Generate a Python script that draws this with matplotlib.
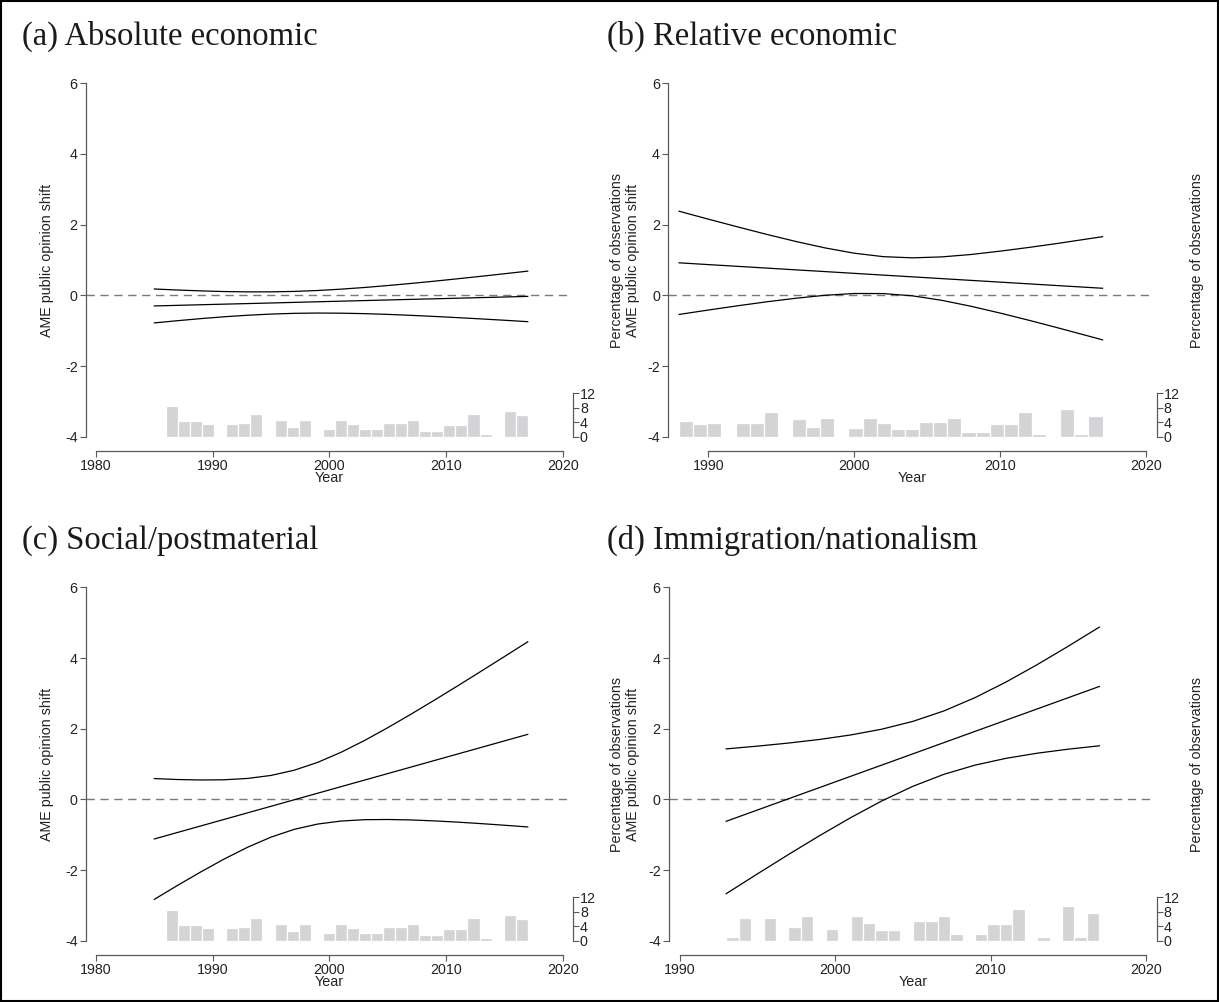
import matplotlib
matplotlib.use("Agg")
import matplotlib.pyplot as plt
from matplotlib.patches import Rectangle

plt.rcParams['font.family'] = ['Liberation Sans', 'DejaVu Sans']
plt.rcParams['axes.unicode_minus'] = False

# ---------------- data ----------------
# (a) Absolute economic
years_a = [1985, 1987, 1989, 1991, 1993, 1995, 1997, 1999, 2001,
           2003, 2005, 2007, 2009, 2011, 2013, 2015, 2017]
est_a = [-0.300, -0.283, -0.266, -0.249, -0.233, -0.216, -0.199, -0.182, -0.165,
         -0.148, -0.131, -0.114, -0.098, -0.081, -0.064, -0.047, -0.030]
upper_a = [0.180, 0.150, 0.126, 0.107, 0.098, 0.099, 0.111, 0.137, 0.175,
           0.222, 0.277, 0.337, 0.401, 0.469, 0.539, 0.611, 0.685]
lower_a = [-0.780, -0.717, -0.658, -0.606, -0.563, -0.530, -0.509, -0.501, -0.505,
           -0.518, -0.539, -0.566, -0.597, -0.631, -0.667, -0.705, -0.745]

# (b) Relative economic
years_b = [1988, 1990, 1992, 1994, 1996, 1998, 2000, 2002,
           2004, 2006, 2008, 2010, 2012, 2014, 2016, 2017]
est_b = [0.920, 0.870, 0.821, 0.771, 0.721, 0.672, 0.622, 0.572,
         0.523, 0.473, 0.423, 0.374, 0.324, 0.274, 0.225, 0.200]
upper_b = [2.380, 2.156, 1.938, 1.725, 1.524, 1.342, 1.192, 1.094,
           1.061, 1.088, 1.156, 1.251, 1.358, 1.474, 1.598, 1.660]
lower_b = [-0.540, -0.416, -0.296, -0.183, -0.082, 0.002, 0.052, 0.050,
           -0.015, -0.142, -0.310, -0.503, -0.710, -0.926, -1.148, -1.260]

# (c) Social/postmaterial
years_c = [1985, 1987, 1989, 1991, 1993, 1995, 1997, 1999, 2001,
           2003, 2005, 2007, 2009, 2011, 2013, 2015, 2017]
est_c = [-1.120, -0.935, -0.750, -0.565, -0.380, -0.195, -0.010, 0.175, 0.360,
         0.545, 0.730, 0.915, 1.100, 1.285, 1.470, 1.655, 1.840]
upper_c = [0.589, 0.562, 0.549, 0.555, 0.593, 0.678, 0.827, 1.048, 1.333,
           1.665, 2.029, 2.412, 2.809, 3.214, 3.626, 4.042, 4.460]
lower_c = [-2.829, -2.432, -2.049, -1.685, -1.353, -1.068, -0.847, -0.698, -0.613,
           -0.575, -0.569, -0.582, -0.609, -0.644, -0.686, -0.732, -0.780]

# (d) Immigration/nationalism
years_d = [1993, 1995, 1997, 1999, 2001, 2003, 2005, 2007, 2009, 2011, 2013, 2015, 2017]
est_d = [-0.62, -0.302, 0.016, 0.334, 0.652, 0.97, 1.288, 1.606, 1.924, 2.242, 2.56, 2.878, 3.196]
upper_d = [1.429, 1.507, 1.594, 1.696, 1.823, 1.986, 2.207, 2.503, 2.879, 3.322, 3.813, 4.335, 4.876]
lower_d = [-2.669, -2.111, -1.562, -1.028, -0.519, -0.046, 0.369, 0.709, 0.969, 1.162, 1.307, 1.421, 1.516]

# Histograms of observations (percent), 30 equal bins over each sample's range
hist_range_ac = (1986, 2017)
hist_pct_ac = [8.4, 4.25, 4.25, 3.6, 0, 3.45, 3.9, 6.3, 0, 4.5, 2.6, 4.75, 0, 2.25, 4.75,
               3.55, 2.0, 2.0, 3.9, 3.9, 4.75, 1.45, 1.45, 3.25, 3.25, 6.3, 0.75, 0, 7.0, 6.0]
hist_range_b = (1988, 2017)
hist_pct_b = [4.35, 3.5, 3.8, 0, 3.8, 3.8, 6.85, 0, 4.9, 2.75, 5.2, 0, 2.4, 5.2, 3.8,
              2.1, 2.1, 4.05, 4.05, 5.2, 1.3, 1.3, 3.5, 3.5, 6.85, 0.75, 0, 7.65, 0.75, 5.7]
hist_range_d = (1993, 2017)
hist_pct_d = [1.0, 6.3, 0, 6.3, 0, 3.8, 6.85, 0, 3.25, 0, 6.85, 4.9, 2.95, 2.95, 0,
              5.45, 5.45, 6.85, 1.85, 0, 1.85, 4.6, 4.6, 8.8, 0, 1.0, 0, 9.6, 1.0, 7.65]

titles = ["(a) Absolute economic", "(b) Relative economic",
          "(c) Social/postmaterial", "(d) Immigration/nationalism"]
y_ticks = [-4, -2, 0, 2, 4, 6]
pct_ticks = [0, 4, 8, 12]
x_ticks_ac = [1980, 1990, 2000, 2010, 2020]
x_ticks_bd = [1990, 2000, 2010, 2020]
y_label = "AME public opinion shift"
pct_label = "Percentage of observations"
x_label = "Year"

# ---------------- layout ----------------
W, H = 1219, 1002
fig = plt.figure(figsize=(W / 100, H / 100), dpi=100)
fig.patch.set_facecolor("white")

SPINE = "#5a5a5a"
BAR = "#d4d4d6"
TICK_FS = 10.3

panels = [
    dict(px=(86, 573, 83.3, 436.7), xlim=(1979.14, 2020.88), xt=x_ticks_ac,
         yrs=years_a, est=est_a, up=upper_a, lo=lower_a,
         hr=hist_range_ac, hp=hist_pct_ac, title_xy=(22, 45),
         ylab_x=47, right_lab_x=617),
    dict(px=(668.3, 1156.7, 83.3, 436.7), xlim=(1987.26, 2020.71), xt=x_ticks_bd,
         yrs=years_b, est=est_b, up=upper_b, lo=lower_b,
         hr=hist_range_b, hp=hist_pct_b, title_xy=(607, 45),
         ylab_x=633, right_lab_x=1197),
    dict(px=(86, 573, 587.4, 940.7), xlim=(1979.14, 2020.88), xt=x_ticks_ac,
         yrs=years_c, est=est_c, up=upper_c, lo=lower_c,
         hr=hist_range_ac, hp=hist_pct_ac, title_xy=(22, 549),
         ylab_x=47, right_lab_x=617),
    dict(px=(669, 1156.7, 587.4, 940.7), xlim=(1989.32, 2020.69), xt=x_ticks_bd,
         yrs=years_d, est=est_d, up=upper_d, lo=lower_d,
         hr=hist_range_d, hp=hist_pct_d, title_xy=(607, 549),
         ylab_x=633, right_lab_x=1197),
]

for p, title in zip(panels, titles):
    l, r, t, b = p["px"]
    w_px, h_px = r - l, b - t
    ax = fig.add_axes([l / W, 1 - b / H, w_px / W, h_px / H])
    tw = ax.twinx()

    # histogram on the secondary axis
    n = len(p["hp"])
    lo_yr, hi_yr = p["hr"]
    bw = (hi_yr - lo_yr) / n
    edges = [lo_yr + i * bw for i in range(n)]
    tw.bar(edges, p["hp"], width=bw, align="edge", color=BAR,
           edgecolor="white", linewidth=0.9)
    tw.set_ylim(0, 12 * h_px / 43.3)
    tw.set_yticks(pct_ticks)
    tw.set_yticklabels([str(v) for v in pct_ticks])
    for s in ("left", "top", "bottom"):
        tw.spines[s].set_visible(False)
    tw.spines["right"].set_bounds(0, 12)
    tw.spines["right"].set_color(SPINE)
    tw.spines["right"].set_linewidth(0.9)
    tw.tick_params(axis="y", direction="out", length=4, width=0.8, color=SPINE,
                   labelsize=TICK_FS, pad=1, labelcolor="#222222")
    tw.set_ylabel(pct_label, fontsize=TICK_FS, color="#222222")
    tw.yaxis.set_label_coords((p["right_lab_x"] - l) / w_px, 0.5)
    tw.yaxis.label.set_va("center")

    # main axis drawn above the histogram
    ax.set_zorder(tw.get_zorder() + 1)
    ax.patch.set_visible(False)
    ax.set_xlim(*p["xlim"])
    ax.set_ylim(-4, 6)

    ax.hlines(0, p["xlim"][0], 2020.4, colors="#7a7a7a", linestyles=(0, (6, 4)),
              linewidth=1.0)
    for series in (p["up"], p["est"], p["lo"]):
        ax.plot(p["yrs"], series, color="black", linewidth=0.9)

    ax.set_yticks(y_ticks)
    ax.set_yticklabels([str(v) for v in y_ticks])
    ax.set_xticks(p["xt"])
    ax.set_xticklabels([str(v) for v in p["xt"]])
    for s in ("top", "right"):
        ax.spines[s].set_visible(False)
    for s in ("left", "bottom"):
        ax.spines[s].set_color(SPINE)
        ax.spines[s].set_linewidth(0.9)
    ax.spines["left"].set_bounds(-4, 6)
    ax.spines["bottom"].set_position(("outward", 10.3))
    ax.spines["bottom"].set_bounds(p["xt"][0], p["xt"][-1])
    ax.tick_params(axis="both", direction="out", length=4, width=0.8, color=SPINE,
                   labelsize=TICK_FS, pad=2, labelcolor="#222222")

    ax.set_ylabel(y_label, fontsize=TICK_FS, color="#222222")
    ax.yaxis.set_label_coords((p["ylab_x"] - l) / w_px, 0.5)
    ax.yaxis.label.set_va("center")
    ax.set_xlabel(x_label, fontsize=TICK_FS, color="#222222")
    ax.xaxis.set_label_coords(0.5, -41.3 / h_px)
    ax.xaxis.label.set_va("center")

    tx, ty = p["title_xy"]
    fig.text(tx / W, 1 - ty / H, title, family=["Liberation Serif", "DejaVu Serif"],
             fontsize=23.5, va="baseline", ha="left", color="#1a1a1a")

# outer frame
fig.patches.append(Rectangle((0.0008, 0.001), 0.9984, 0.998, transform=fig.transFigure,
                             fill=False, edgecolor="black", linewidth=1.5))

fig.savefig("out.png", dpi=100, facecolor="white")
